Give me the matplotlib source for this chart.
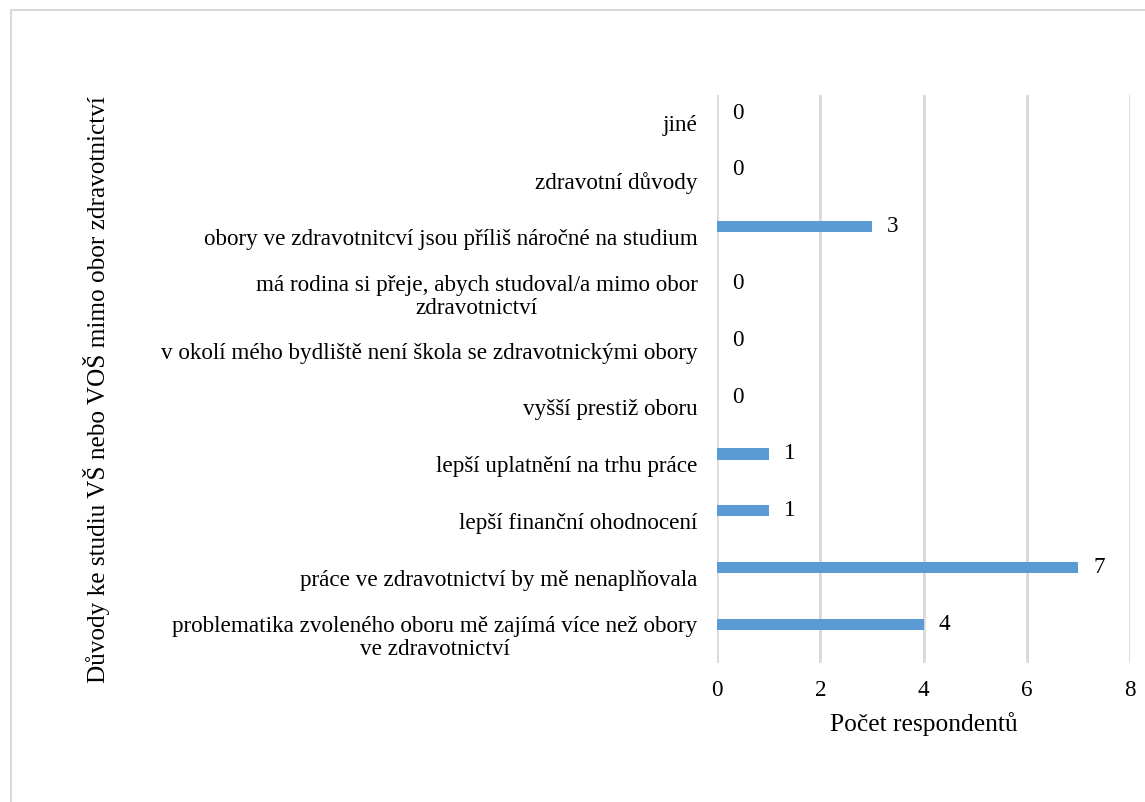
import matplotlib.pyplot as plt
from matplotlib.patches import Rectangle
import numpy as np

plt.rcParams['font.family'] = ['Liberation Serif', 'DejaVu Serif']

# kategorie odspodu nahoru
kategorie = [
    "problematika zvoleného oboru mě zajímá více než obory\nve zdravotnictví",
    "práce ve zdravotnictví by mě nenaplňovala",
    "lepší finanční ohodnocení",
    "lepší uplatnění na trhu práce",
    "vyšší prestiž oboru",
    "v okolí mého bydliště není škola se zdravotnickými obory",
    "má rodina si přeje, abych studoval/a mimo obor\nzdravotnictví",
    "obory ve zdravotnitcví jsou příliš náročné na studium",
    "zdravotní důvody",
    "jiné",
]
pocty = [4, 7, 1, 1, 0, 0, 0, 3, 0, 0]
x_ticks = [0, 2, 4, 6, 8]

fig = plt.figure(figsize=(11.45, 8.02), dpi=100)
ax = fig.add_axes([717 / 1145, 1 - 663 / 802, 413 / 1145, 568 / 802])

# okraj grafu
fig.patches.append(Rectangle((11 / 1145, -0.01), 1.02, 1 - 10 / 802 + 0.01,
                             transform=fig.transFigure, fill=False,
                             edgecolor='#D9D9D9', linewidth=1.5))

y = np.arange(len(kategorie))
posun = 0.18
ax.barh(y + posun, pocty, height=0.2, color='#5B9BD5', zorder=3)

for yi, v in zip(y, pocty):
    ax.annotate(str(v), (v, yi + posun), xytext=(11, 0), textcoords='offset points',
                ha='left', va='center', fontsize=16.7)

ax.set_xlim(0, 8)
ax.set_ylim(-0.5, len(kategorie) - 0.5)
ax.set_xticks(x_ticks)
ax.set_xticklabels([str(t) for t in x_ticks], fontsize=16.7)
ax.set_yticks(y)
ax.set_yticklabels(kategorie, fontsize=16.7, multialignment='center', linespacing=1.1)
ax.tick_params(axis='both', length=0)
ax.tick_params(axis='x', pad=12)
ax.tick_params(axis='y', pad=14)
ax.grid(axis='x', color='#D9D9D9', linewidth=2, zorder=0)
for s in ax.spines.values():
    s.set_visible(False)

ax.set_xlabel("Počet respondentů", fontsize=18.4, labelpad=8)
fig.text(97 / 1145, 1 - 390 / 802, "Důvody ke studiu VŠ nebo VOŠ mimo obor zdravotnictví",
         rotation=90, ha='center', va='center', fontsize=18.2)

fig.savefig("out.png", dpi=100)
